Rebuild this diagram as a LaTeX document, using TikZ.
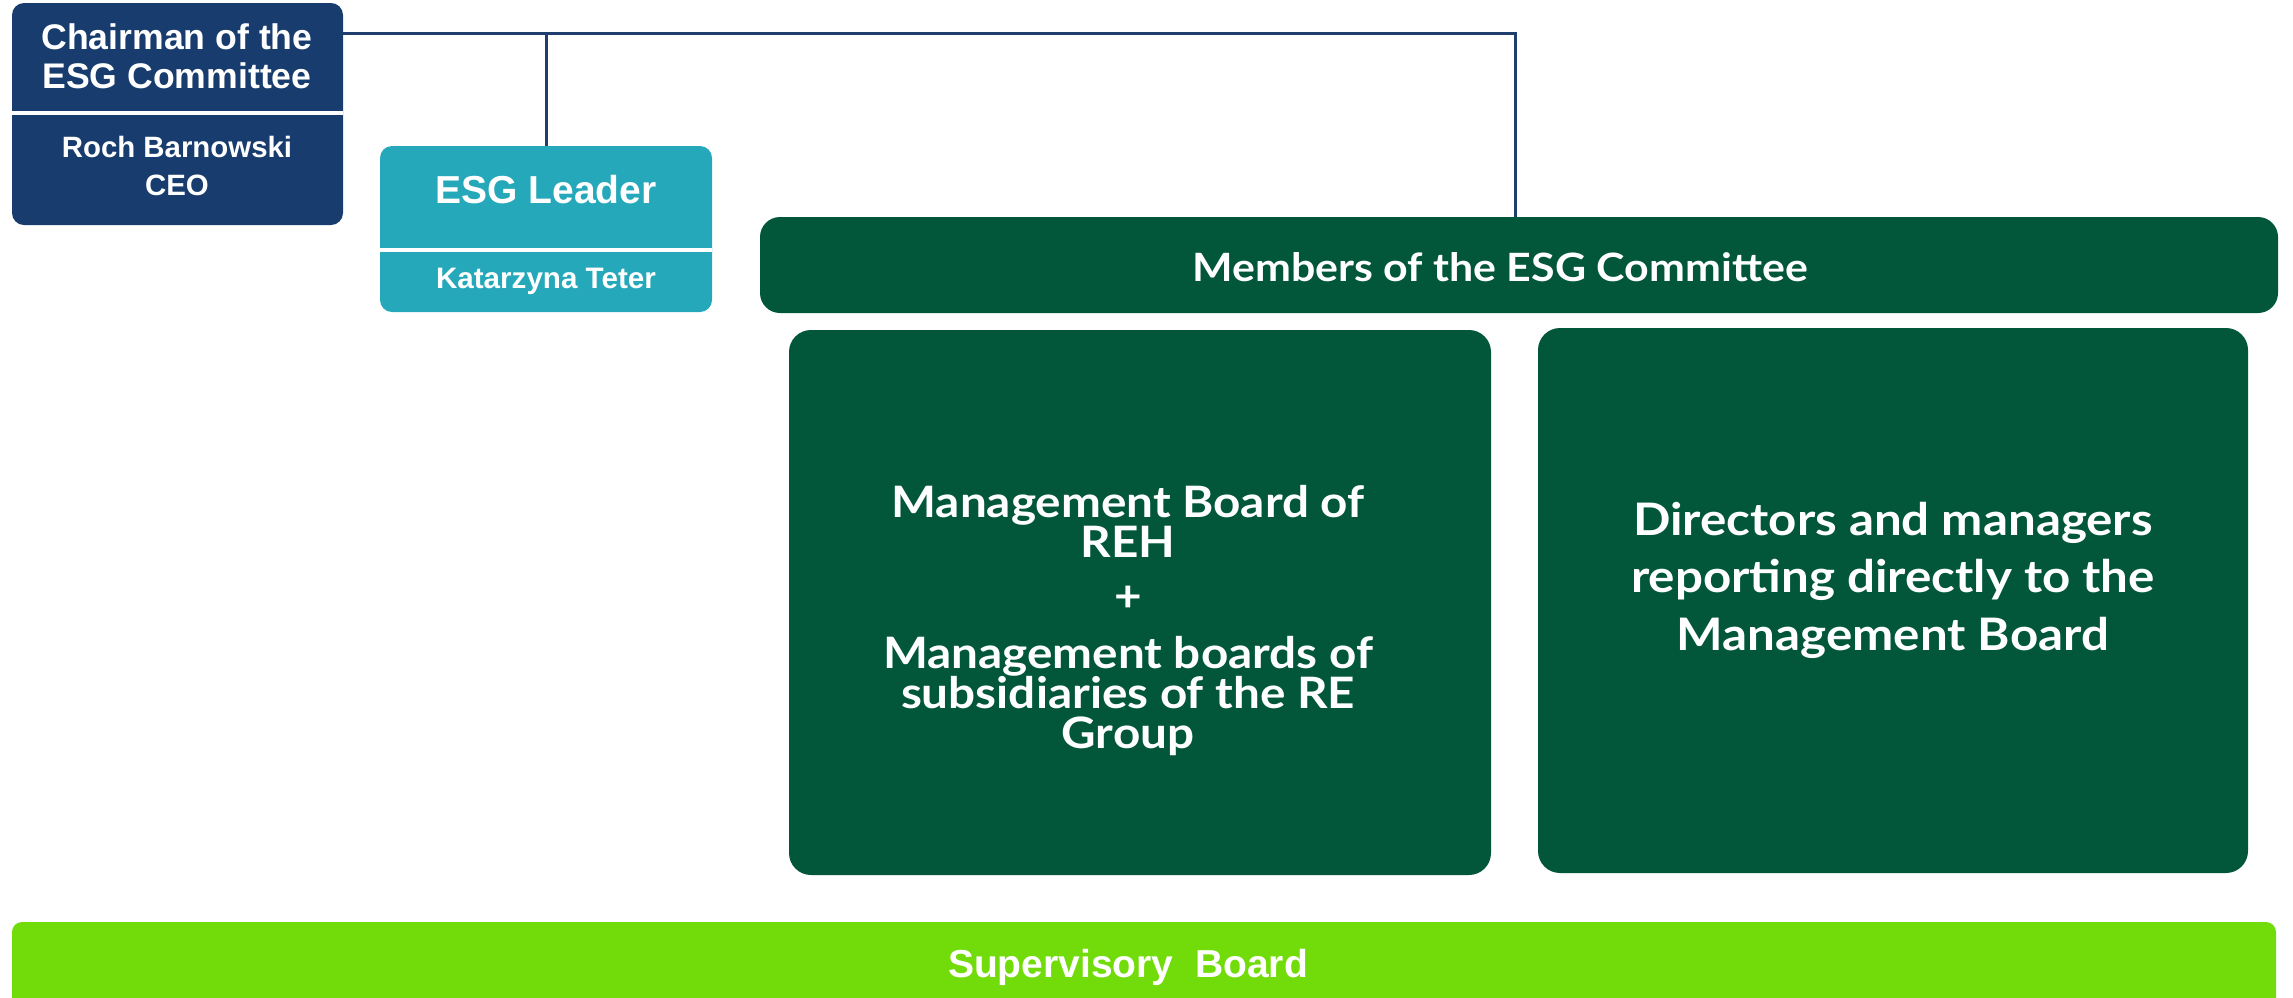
\documentclass[tikz,border=0pt]{standalone}
\usepackage{fontspec}
\setmainfont{Liberation Sans}
\newfontfamily\grfont[FakeStretch=1.1]{Lato}
\AtBeginDocument{\lineskiplimit=-1000pt\relax}
\definecolor{navybox}{HTML}{173C6D}
\definecolor{navyline}{HTML}{1F3E6E}
\definecolor{tealbox}{HTML}{24A8BA}
\definecolor{greenbox}{HTML}{02573A}
\definecolor{limebox}{HTML}{72DC0A}
\tikzset{
  box/.style={anchor=north west, inner sep=0pt, outer sep=0pt, draw=none},
  divider/.style={white, line width=4pt},
  conn/.style={navyline, line width=3pt},
  lbl/.style={anchor=base, text=white, align=center, inner sep=0pt},
}
\begin{document}
\begin{tikzpicture}[x=1pt,y=-1pt]
\useasboundingbox (0,0) rectangle (2293,997);
% boxes
\node[box, fill=navybox, rounded corners=12pt, minimum width=331pt, minimum height=222pt] (chair) at (12,3) {};
\node[box, fill=tealbox, rounded corners=12pt, minimum width=332pt, minimum height=166pt] (leader) at (380,146) {};
\node[box, fill=greenbox, rounded corners=20pt, minimum width=1518pt, minimum height=96pt] (members) at (760,217) {};
\node[box, fill=greenbox, rounded corners=22pt, minimum width=702pt, minimum height=545pt] (mgmt) at (789,330) {};
\node[box, fill=greenbox, rounded corners=22pt, minimum width=710pt, minimum height=545pt] (dirs) at (1538,328) {};
\node[box, fill=limebox, rounded corners=10pt, minimum width=2264pt, minimum height=110pt] (sup) at (12,922) {};
% dividers
\draw[divider] (chair.west |- 0,113) -- (chair.east |- 0,113);
\draw[divider] (leader.west |- 0,250) -- (leader.east |- 0,250);
% connectors
\coordinate (j) at (1515,33);
\draw[conn] (chair.east |- j) -- (j) -- (j |- members.north);
\draw[conn] (leader.north) -- (leader.north |- j);
% labels (anchor base = baseline of the last line)
\node[lbl, font=\fontsize{35.6}{39}\selectfont\bfseries] (chairT) at (177,88) {Chairman of the\\ESG Committee};
\node[lbl, font=\fontsize{29.4}{38}\selectfont\bfseries] (chairN) at (177,195) {Roch Barnowski\\CEO};
\node[lbl, font=\fontsize{39}{40}\selectfont\bfseries] (leaderT) at (546,203) {ESG Leader};
\node[lbl, font=\fontsize{29.6}{36}\selectfont\bfseries] (leaderN) at (546,288) {Katarzyna Teter};
\node[lbl, font=\fontsize{39}{40}\selectfont\grfont\bfseries] (membersT) at (1500,281) {Members of the ESG Committee};
\node[lbl, font=\fontsize{43.3}{40}\selectfont\grfont\bfseries] (mgmtT) at (1128,748) {Management Board of\\REH\\[14pt]+\\[17pt]Management boards of\\subsidiaries of the RE\\Group};
\node[lbl, font=\fontsize{44.8}{57.5}\selectfont\grfont\bfseries] (dirsT) at (1893,650) {Directors and managers\\reporting directly to the\\Management Board};
\node[lbl, font=\fontsize{39}{40}\selectfont\bfseries] (supT) at (1128,977) {Supervisory\ \ Board};
\end{tikzpicture}
\end{document}
